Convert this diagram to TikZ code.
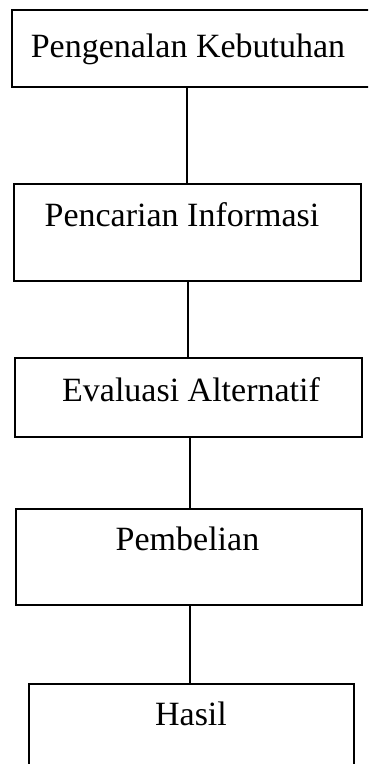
\documentclass[tikz,border=0pt]{standalone}
\usepackage{fontspec}
\setmainfont{Liberation Serif}
\begin{document}
\begin{tikzpicture}[x=1pt,y=-1pt,
  boxline/.style={draw=black,line width=1.4pt,inner sep=0pt},
  lbl/.style={anchor=base,inner sep=0pt,font=\fontsize{34}{40}\selectfont},
  conn/.style={draw=black,line width=1.4pt}]
\useasboundingbox (0,0) rectangle (368,764);
\clip (0,0) rectangle (368,764);
\fill[white] (0,0) rectangle (368,764);
% boxes
\node[boxline,minimum width=363pt,minimum height=77pt] (b1) at (193.5,48.5) {};
\node[boxline,minimum width=347pt,minimum height=97pt] (b2) at (187.5,232.5) {};
\node[boxline,minimum width=347pt,minimum height=79pt] (b3) at (188.5,397.5) {};
\node[boxline,minimum width=346pt,minimum height=96pt] (b4) at (189,557) {};
\node[boxline,minimum width=325pt,minimum height=100pt] (b5) at (191.5,734) {};
% labels
\node[lbl] (t1) at (188,57) {Pengenalan Kebutuhan};
\node[lbl] (t2) at (182,226) {Pencarian Informasi};
\node[lbl] (t3) at (191,401) {Evaluasi Alternatif};
\node[lbl] (t4) at (187.5,550) {Pembelian};
\node[lbl] (t5) at (191,725) {Hasil};
% connectors
\draw[conn] (187,0 |- b1.south) -- (187,0 |- b2.north);
\draw[conn] (188,0 |- b2.south) -- (188,0 |- b3.north);
\draw[conn] (190,0 |- b3.south) -- (190,0 |- b4.north);
\draw[conn] (190,0 |- b4.south) -- (190,0 |- b5.north);
\end{tikzpicture}
\end{document}
